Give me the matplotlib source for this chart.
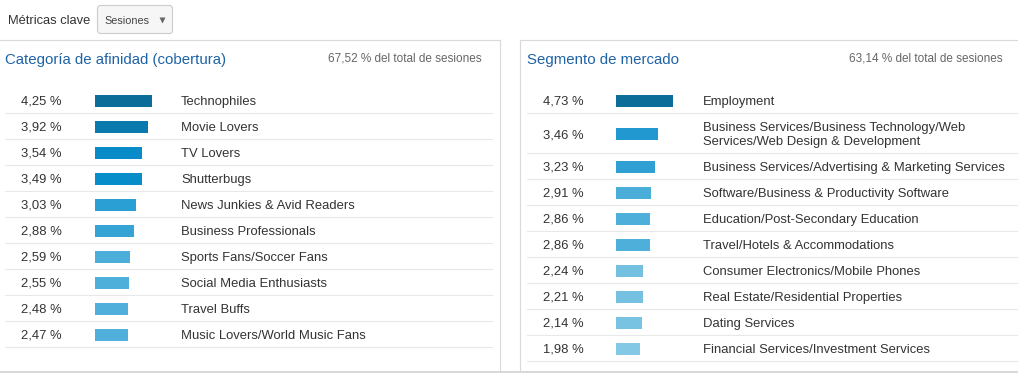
import matplotlib
matplotlib.use("Agg")
import matplotlib.pyplot as plt
from matplotlib.patches import FancyBboxPatch

plt.rcParams['font.family'] = ['Liberation Sans', 'DejaVu Sans']

# data
aff_labels = ["Technophiles", "Movie Lovers", "TV Lovers", "Shutterbugs",
              "News Junkies & Avid Readers", "Business Professionals",
              "Sports Fans/Soccer Fans", "Social Media Enthusiasts",
              "Travel Buffs", "Music Lovers/World Music Fans"]
aff_values = [4.25, 3.92, 3.54, 3.49, 3.03, 2.88, 2.59, 2.55, 2.48, 2.47]

mkt_labels = ["Employment",
              "Business Services/Business Technology/Web\nServices/Web Design & Development",
              "Business Services/Advertising & Marketing Services",
              "Software/Business & Productivity Software",
              "Education/Post-Secondary Education",
              "Travel/Hotels & Accommodations",
              "Consumer Electronics/Mobile Phones",
              "Real Estate/Residential Properties",
              "Dating Services",
              "Financial Services/Investment Services"]
mkt_values = [4.73, 3.46, 3.23, 2.91, 2.86, 2.86, 2.24, 2.21, 2.14, 1.98]

aff_total = "67,52 % del total de sesiones"
mkt_total = "63,14 % del total de sesiones"

# styles
aff_colors = ["#0b6d98", "#0a7aae", "#078cc9", "#078dca", "#2a9fd4",
              "#35a4d5", "#4caed9", "#4eafda", "#50b0db", "#50b0db"]
mkt_colors = ["#0b6d98", "#2298d1", "#30a0d4", "#4aaed9", "#4dafda",
              "#4dafda", "#74c0e1", "#76c1e1", "#79c3e2", "#83c8e4"]

W, H = 1018, 373
fig = plt.figure(figsize=(W / 100, H / 100), dpi=100)
ax = fig.add_axes([0, 0, 1, 1])
ax.set_xlim(0, W)
ax.set_ylim(H, 0)
ax.axis('off')

txt = '#333333'
grid = '#e8e8e8'
border = '#d9d9d9'

# header
ax.text(8, 24, "Métricas clave", fontsize=9.3, color=txt, va='baseline')
ax.add_patch(FancyBboxPatch((97.5, 5.5), 75, 28, boxstyle="round,pad=0,rounding_size=3",
                            fc='#f6f6f6', ec='#cccccc', lw=0.8))
ax.text(104, 23.5, "Sesiones", fontsize=7.8, color='#444444', va='baseline')
ax.plot([162], [19.5], marker='v', ms=4, color='#666666', mec='none')
ax.plot([0, 500], [40, 40], color=border, lw=0.8)
ax.plot([500, 500], [40, 372], color=border, lw=0.8)
ax.plot([520, 520], [40, 372], color=border, lw=0.8)
ax.plot([520, W], [40, 40], color=border, lw=0.8)
ax.plot([0, W], [372, 372], color=border, lw=1.5)


def panel(x0, x1, tot_x, title, total, labels, values, colors, heights, pct_x, bar_x, lab_x):
    ax.text(x0 + 5, 64, title, fontsize=10.8, color='#1f63a6', va='baseline')
    ax.text(tot_x, 61.5, total, fontsize=8.5, color='#666666', va='baseline', ha='right')
    scale = 57 / max(values)
    top = 87
    centers = []
    for h in heights:
        centers.append(top + h / 2)
        top += h
        ax.plot([x0 + 5, x1], [top, top], color=grid, lw=0.8)
    ax.barh([c + 1 for c in centers], [v * scale for v in values], left=bar_x,
            height=12, color=colors)
    for c, v, lab in zip(centers, values, labels):
        ax.text(pct_x, c + 5, f"{v:.2f}".replace('.', ',') + " %", fontsize=9.4,
                color=txt, va='baseline')
        lines = lab.split('\n')
        first = c + 5 - 7.5 * (len(lines) - 1)
        for k, line in enumerate(lines):
            ax.text(lab_x, first + 15 * k, line, fontsize=9.4, color=txt, va='baseline')


panel(0, 492, 482, "Categoría de afinidad (cobertura)", aff_total, aff_labels, aff_values,
      aff_colors, [26] * 10, 21, 95, 181)
panel(522, W, 1003, "Segmento de mercado", mkt_total, mkt_labels, mkt_values,
      mkt_colors, [26, 40] + [26] * 8, 543, 616, 703)

fig.savefig("out.png", dpi=100)
